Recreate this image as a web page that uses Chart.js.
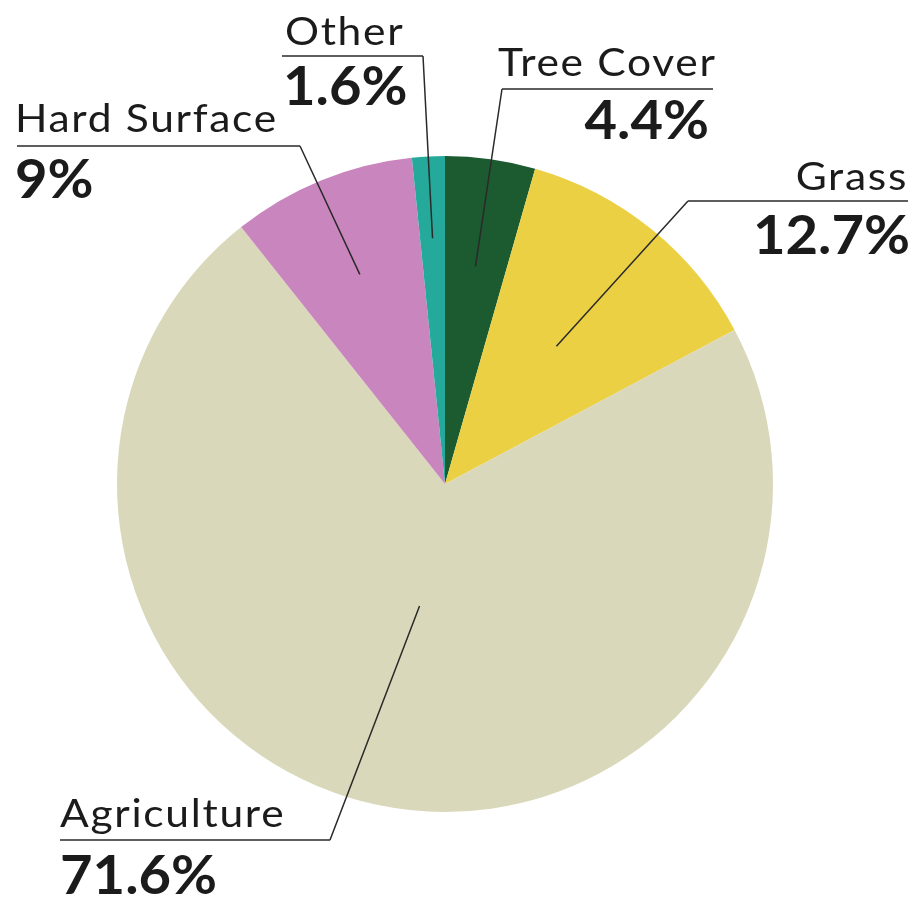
<!DOCTYPE html>
<html>
<head>
<meta charset="utf-8">
<title>Land cover</title>
<script src="https://cdn.jsdelivr.net/npm/chart.js@4.4.1/dist/chart.umd.min.js"></script>
<style>
  html, body { margin: 0; padding: 0; background: #fff; }
  #wrap { width: 915px; height: 900px; }
</style>
</head>
<body>
<div id="wrap"><canvas id="landChart" width="915" height="900"></canvas></div>
<script>
// land cover shares, clockwise from 12 o'clock
const categories = ['Tree Cover', 'Grass', 'Agriculture', 'Hard Surface', 'Other'];
const shares = [4.4, 12.7, 71.6, 9, 1.6];
const sliceColors = ['#1c5a30', '#ecd044', '#dad8ba', '#c985bd', '#25a99a'];

// where each caption sits and how deep its pointer goes into the slice
const captions = [
  { nameX: 498, nameY: 76, nameAlign: 'left', valueX: 709, valueY: 139, valueAlign: 'right', lineY: 89, x0: 502, x1: 713, elbow: 502, depth: 0.67 },
  { nameX: 908, nameY: 190, nameAlign: 'right', valueX: 910, valueY: 254, valueAlign: 'right', lineY: 201, x0: 688, x1: 908, elbow: 688, depth: 0.54 },
  { nameX: 60, nameY: 827, nameAlign: 'left', valueX: 60, valueY: 894, valueAlign: 'left', lineY: 840, x0: 60, x1: 330, elbow: 330, depth: 0.38 },
  { nameX: 15, nameY: 132, nameAlign: 'left', valueX: 15, valueY: 198, valueAlign: 'left', lineY: 146, x0: 17, x1: 300, elbow: 300, depth: 0.69 },
  { nameX: 285, nameY: 45, nameAlign: 'left', valueX: 283, valueY: 105, valueAlign: 'left', lineY: 56, x0: 282, x1: 423, elbow: 423, depth: 0.75 }
];

// text drawn a bit wider than Lato's own proportions
function wideText(ctx, text, x, y, align, stretch) {
  ctx.save();
  ctx.translate(x, y);
  ctx.scale(stretch, 1);
  ctx.textAlign = align;
  ctx.fillText(text, 0, 0);
  ctx.restore();
}

const captionPlugin = {
  id: 'captions',
  afterDatasetsDraw(chart) {
    const ctx = chart.ctx;
    const arcs = chart.getDatasetMeta(0).data;
    ctx.save();
    ctx.fillStyle = '#1b1b1b';
    ctx.strokeStyle = '#2a2a2a';
    ctx.lineWidth = 1.5;
    ctx.textBaseline = 'alphabetic';
    arcs.forEach((arc, i) => {
      const c = captions[i];
      const mid = (arc.startAngle + arc.endAngle) / 2;
      const r = arc.outerRadius * c.depth;
      const px = arc.x + Math.cos(mid) * r;
      const py = arc.y + Math.sin(mid) * r;

      ctx.beginPath();
      ctx.moveTo(c.x0, c.lineY);
      ctx.lineTo(c.x1, c.lineY);
      ctx.moveTo(c.elbow, c.lineY);
      ctx.lineTo(px, py);
      ctx.stroke();

      ctx.font = '400 38px Lato';
      ctx.letterSpacing = '1.5px';
      wideText(ctx, categories[i], c.nameX, c.nameY, c.nameAlign, 1.12);

      ctx.font = '700 54px Lato';
      ctx.letterSpacing = '0px';
      wideText(ctx, shares[i] + '%', c.valueX, c.valueY, c.valueAlign, 1.04);
    });
    ctx.restore();
  }
};

new Chart(document.getElementById('landChart'), {
  type: 'pie',
  data: {
    labels: categories,
    datasets: [{
      data: shares,
      backgroundColor: sliceColors,
      borderWidth: 0
    }]
  },
  options: {
    responsive: false,
    animation: false,
    layout: { padding: { left: 117, right: 142, top: 156, bottom: 88 } },
    plugins: {
      legend: { display: false },
      tooltip: { enabled: false }
    }
  },
  plugins: [captionPlugin]
});
</script>
</body>
</html>
